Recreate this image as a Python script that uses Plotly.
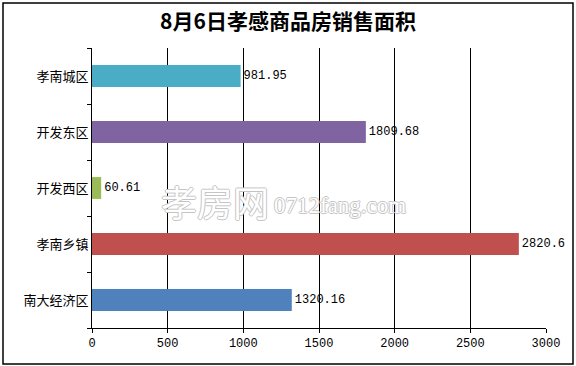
import plotly.graph_objects as go

categories = ["南大经济区", "孝南乡镇", "开发西区", "开发东区", "孝南城区"]
values = [1320.16, 2820.6, 60.61, 1809.68, 981.95]
labels = ["1320.16", "2820.6", "60.61", "1809.68", "981.95"]
colors = ["#4F81BD", "#C0504D", "#9BBB59", "#8064A2", "#4BACC6"]
x_ticks = [0, 500, 1000, 1500, 2000, 2500, 3000]

W, H = 576, 366
L, R, T, B = 92, 30, 48, 38
pw, ph = W - L - R, H - T - B

font_cjk = "Noto Sans CJK SC, sans-serif"
font_num = "Liberation Mono, monospace"

fig = go.Figure(go.Bar(
    y=categories, x=values, orientation="h",
    marker=dict(color=colors, line=dict(width=0)),
    text=labels, textposition="outside", cliponaxis=False,
    textfont=dict(family=font_num, size=12, color="#000"),
    hoverinfo="skip",
))

def px(xp): return (xp - L) / pw
def py(yp): return (H - B - yp) / ph

oc = "#c4c4c4"
outline = f"1px 0 0 {oc}, -1px 0 0 {oc}, 0 1px 0 {oc}, 0 -1px 0 {oc}"

fig.update_layout(
    width=W, height=H,
    margin=dict(l=L, r=R, t=T, b=B, autoexpand=False),
    paper_bgcolor="white", plot_bgcolor="white",
    bargap=0.61,
    showlegend=False,
    title=dict(text="<b>8月6日孝感商品房销售面积</b>", x=0.5, xanchor="center",
               y=1 - 22 / H, yanchor="middle",
               font=dict(family=font_cjk, size=21, color="#000")),
    xaxis=dict(range=[0, 3000], tickvals=x_ticks, showgrid=True, gridcolor="#000",
               gridwidth=1, showline=True, linecolor="#000", linewidth=1,
               ticks="outside", ticklen=4, tickcolor="#000", zeroline=False,
               tickfont=dict(family=font_num, size=12, color="#000")),
    yaxis=dict(categoryorder="array", categoryarray=categories, showline=True,
               linecolor="#000", linewidth=1, ticks="outside", tickson="boundaries",
               ticklen=4, tickcolor="#000", showgrid=False,
               tickfont=dict(family=font_cjk, size=13, color="#000")),
    shapes=[dict(type="rect", xref="paper", yref="paper",
                 x0=px(3), x1=px(573), y0=py(364), y1=py(3),
                 line=dict(color="#000", width=1.5), fillcolor="rgba(0,0,0,0)", layer="below")],
    annotations=[
        dict(text="孝房网", xref="paper", yref="paper", x=px(271), y=py(201),
             xanchor="right", yanchor="middle", showarrow=False,
             font=dict(family=font_cjk, size=36, color="white", shadow=outline)),
        dict(text="0712fang.com", xref="paper", yref="paper", x=px(272), y=py(205),
             xanchor="left", yanchor="middle", showarrow=False,
             font=dict(family="Liberation Serif, serif", size=23, color="white", shadow=outline)),
    ],
)

fig.write_html("out.html", config={"displayModeBar": False},
               post_script="document.body.style.margin='0';")
